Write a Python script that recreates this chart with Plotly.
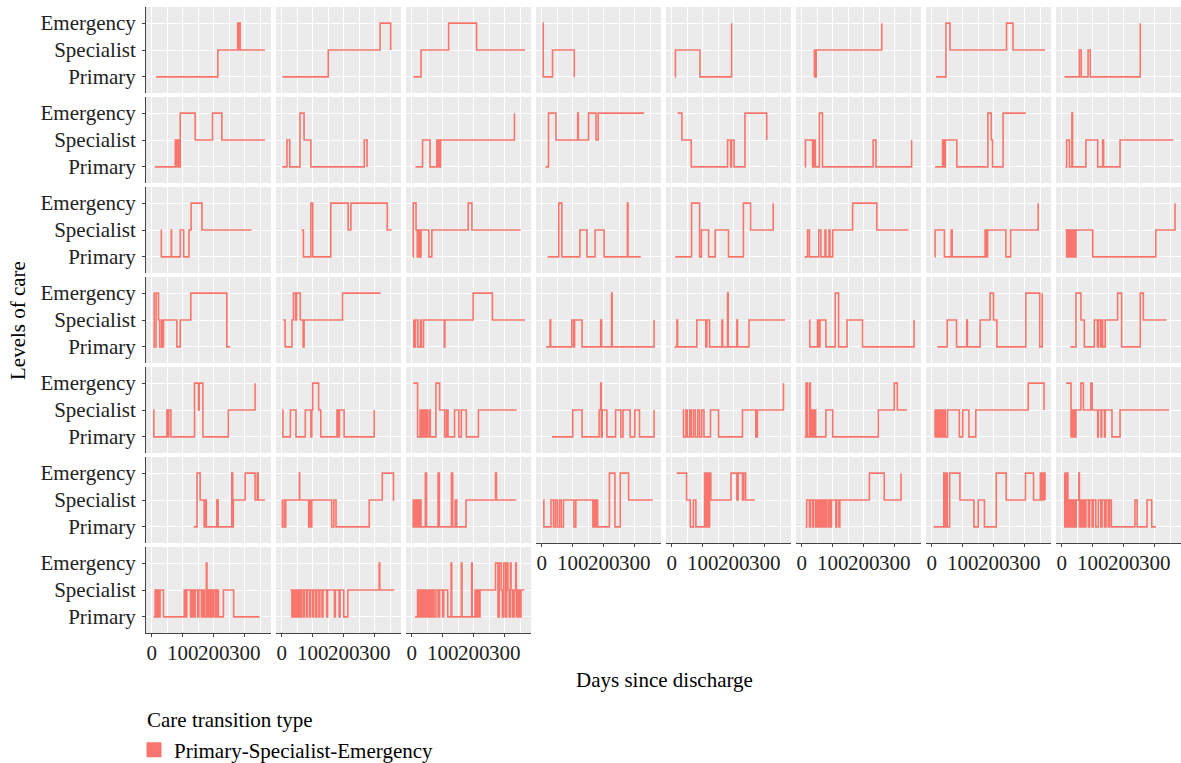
import plotly.graph_objects as go

# Care level labels (coded 1..3) and day ticks
levels = ["Primary", "Specialist", "Emergency"]
day_ticks = [0, 100, 200, 300]
legend_title = "Care transition type"
transition_type = "Primary-Specialist-Emergency"

# One care trajectory per patient: (day since discharge, care level code)
p01 = [(14, 1), (213, 2), (277, 3), (280, 2), (282, 3), (285, 2), (365, 2)]
p02 = [(2, 1), (150, 2), (317, 3), (351, 2)]
p03 = [(6, 1), (30, 2), (119, 3), (209, 2), (365, 2)]
p04 = [(4, 3), (5, 1), (35, 2), (105, 1)]
p05 = [(11, 1), (12, 2), (91, 1), (193, 3)]
p06 = [(40, 1), (41, 2), (44, 1), (47, 2), (258, 3)]
p07 = [(14, 1), (46, 3), (59, 2), (241, 3), (262, 2), (365, 2)]
p08 = [(9, 1), (57, 2), (63, 1), (85, 2), (92, 1), (253, 3)]

p09 = [(10, 1), (76, 2), (79, 1), (82, 2), (85, 1), (88, 2), (91, 1), (92, 3), (140, 2), (196, 3), (226, 2), (365, 2)]
p10 = [(2, 1), (17, 2), (26, 1), (59, 3), (72, 2), (94, 1), (266, 2), (275, 1)]
p11 = [(12, 1), (35, 2), (59, 1), (81, 2), (84, 1), (87, 2), (90, 1), (93, 2), (331, 3)]
p12 = [(12, 1), (22, 3), (46, 2), (116, 3), (118, 2), (151, 3), (175, 2), (182, 3), (330, 3)]
p13 = [(19, 3), (33, 2), (63, 1), (180, 2), (190, 1), (193, 2), (201, 1), (236, 3), (306, 2)]
p14 = [(11, 1), (12, 2), (35, 1), (39, 2), (44, 1), (57, 3), (67, 1), (230, 2), (239, 1), (354, 2)]
p15 = [(11, 1), (35, 2), (37, 1), (40, 2), (42, 1), (44, 2), (81, 1), (181, 3), (192, 2), (196, 1), (230, 3), (303, 3)]
p16 = [(12, 1), (16, 2), (25, 1), (33, 3), (35, 1), (78, 2), (116, 1), (132, 2), (135, 1), (188, 2), (360, 2)]

p17 = [(30, 2), (31, 1), (63, 2), (64, 1), (92, 2), (103, 1), (120, 2), (127, 3), (162, 2), (322, 2)]
p18 = [(64, 2), (70, 1), (94, 3), (100, 1), (158, 3), (214, 2), (223, 3), (340, 2), (354, 2)]
p19 = [(4, 1), (5, 3), (14, 2), (18, 1), (22, 2), (26, 1), (30, 2), (55, 1), (65, 2), (182, 3), (194, 2), (351, 2)]
p20 = [(19, 1), (55, 3), (65, 1), (123, 2), (146, 1), (172, 2), (201, 1), (276, 3), (278, 1), (319, 1)]
p21 = [(11, 1), (64, 3), (90, 1), (96, 2), (119, 1), (140, 2), (183, 1), (231, 3), (254, 2), (327, 3)]
p22 = [(9, 1), (19, 2), (25, 1), (55, 2), (62, 1), (75, 2), (78, 1), (88, 2), (91, 1), (100, 2), (164, 3), (242, 2), (344, 2)]
p23 = [(10, 1), (11, 2), (41, 1), (63, 2), (66, 1), (172, 2), (176, 1), (180, 2), (239, 1), (254, 2), (343, 3)]
p24 = [(12, 2), (16, 1), (20, 2), (25, 1), (29, 2), (33, 1), (38, 2), (43, 1), (46, 2), (100, 1), (303, 2), (365, 3)]

p25 = [(6, 3), (8, 1), (14, 3), (22, 2), (26, 1), (32, 2), (35, 1), (38, 2), (81, 1), (92, 2), (126, 3), (242, 1), (253, 1)]
p26 = [(5, 2), (11, 1), (33, 2), (38, 3), (45, 2), (48, 3), (60, 2), (69, 1), (72, 2), (196, 3), (319, 3)]
p27 = [(6, 2), (7, 1), (12, 2), (20, 1), (28, 2), (31, 1), (38, 2), (105, 1), (107, 2), (198, 3), (260, 2), (365, 2)]
p28 = [(14, 1), (27, 2), (29, 1), (97, 2), (103, 1), (106, 2), (130, 1), (190, 2), (193, 1), (225, 3), (227, 1), (362, 2)]
p29 = [(9, 1), (17, 2), (19, 1), (81, 2), (110, 1), (113, 2), (122, 1), (162, 2), (164, 1), (180, 3), (182, 1), (210, 2), (212, 1), (249, 2), (365, 2)]
p30 = [(25, 2), (26, 1), (51, 2), (55, 1), (59, 2), (78, 1), (108, 3), (119, 1), (146, 2), (196, 1), (362, 2)]
p31 = [(18, 1), (50, 2), (80, 1), (113, 2), (115, 1), (156, 2), (188, 3), (199, 2), (210, 1), (303, 3), (348, 1), (356, 3)]
p32 = [(28, 1), (46, 3), (62, 2), (73, 1), (105, 2), (115, 1), (118, 2), (125, 1), (127, 2), (132, 1), (140, 2), (180, 3), (193, 1), (253, 3), (263, 2), (338, 2)]

p33 = [(6, 2), (7, 1), (49, 2), (52, 1), (55, 2), (62, 1), (138, 3), (151, 2), (153, 3), (165, 1), (247, 2), (333, 3)]
p34 = [(3, 2), (4, 1), (28, 2), (46, 1), (76, 2), (94, 1), (97, 2), (100, 3), (119, 2), (126, 1), (178, 2), (182, 1), (186, 2), (201, 1), (298, 2)]
p35 = [(5, 3), (19, 1), (27, 2), (32, 1), (37, 2), (41, 1), (45, 2), (50, 1), (56, 2), (60, 1), (78, 3), (90, 2), (106, 1), (112, 2), (117, 1), (138, 2), (152, 1), (160, 2), (176, 1), (215, 2), (338, 2)]
p36 = [(33, 1), (100, 2), (130, 1), (185, 2), (190, 3), (192, 1), (195, 2), (210, 1), (238, 2), (255, 1), (262, 2), (285, 1), (300, 2), (315, 1), (362, 2)]
p37 = [(35, 2), (38, 1), (46, 2), (50, 1), (58, 2), (63, 1), (70, 2), (76, 1), (84, 2), (90, 1), (97, 2), (104, 1), (125, 2), (151, 1), (228, 2), (271, 1), (276, 2), (360, 3)]
p38 = [(9, 1), (14, 3), (18, 1), (25, 3), (28, 2), (30, 1), (33, 2), (37, 1), (40, 2), (45, 1), (78, 2), (100, 1), (247, 2), (298, 3), (308, 2), (340, 2)]
p39 = [(9, 2), (11, 1), (15, 2), (18, 1), (23, 2), (27, 1), (32, 2), (35, 1), (40, 2), (44, 1), (51, 2), (89, 1), (100, 2), (120, 1), (142, 2), (311, 3), (362, 2)]
p40 = [(14, 3), (30, 1), (33, 2), (35, 1), (37, 2), (39, 1), (42, 2), (44, 1), (46, 2), (62, 3), (70, 2), (94, 3), (98, 2), (116, 1), (118, 2), (127, 1), (129, 2), (138, 1), (140, 2), (162, 1), (188, 2), (346, 2)]

p41 = [(135, 1), (146, 3), (156, 2), (169, 1), (173, 2), (176, 1), (210, 2), (214, 1), (258, 3), (261, 1), (263, 2), (301, 3), (333, 2), (340, 3), (343, 2), (365, 2)]
p42 = [(1, 2), (2, 1), (8, 2), (10, 1), (13, 2), (57, 3), (58, 2), (87, 1), (89, 2), (91, 1), (93, 2), (95, 1), (97, 2), (161, 1), (168, 2), (175, 1), (282, 2), (324, 3), (360, 2), (363, 2)]
p43 = [(3, 2), (5, 1), (8, 2), (10, 1), (13, 2), (15, 1), (18, 2), (20, 1), (23, 2), (25, 1), (28, 2), (30, 1), (44, 3), (48, 1), (85, 3), (89, 1), (128, 3), (132, 1), (140, 2), (145, 1), (175, 2), (270, 3), (273, 2), (337, 2)]
p44 = [(6, 2), (7, 1), (30, 2), (38, 1), (44, 2), (50, 1), (57, 2), (63, 1), (70, 2), (104, 1), (110, 2), (165, 1), (168, 2), (172, 1), (176, 2), (180, 1), (218, 3), (236, 1), (253, 3), (280, 2), (358, 2)]
p45 = [(16, 3), (48, 2), (60, 1), (70, 2), (78, 1), (106, 3), (110, 1), (114, 3), (118, 1), (122, 3), (126, 2), (191, 3), (210, 2), (214, 3), (228, 2), (232, 3), (238, 2), (268, 2)]
p46 = [(12, 1), (16, 2), (25, 1), (28, 2), (35, 1), (38, 2), (45, 1), (48, 2), (52, 1), (55, 2), (60, 1), (63, 2), (68, 1), (71, 2), (76, 1), (79, 2), (85, 1), (88, 2), (93, 1), (96, 2), (110, 1), (113, 2), (120, 1), (123, 2), (218, 3), (266, 2), (320, 3)]
p47 = [(6, 1), (39, 3), (42, 1), (46, 3), (50, 1), (58, 3), (91, 2), (136, 1), (150, 2), (170, 1), (208, 3), (240, 2), (302, 3), (328, 2), (350, 3), (353, 2), (356, 3), (359, 2), (362, 3), (365, 2)]
p48 = [(9, 3), (10, 1), (13, 3), (15, 1), (18, 3), (20, 1), (23, 2), (26, 1), (29, 2), (32, 1), (35, 2), (38, 1), (41, 2), (44, 1), (47, 2), (55, 3), (57, 1), (60, 2), (64, 1), (68, 2), (73, 1), (78, 2), (86, 1), (90, 2), (98, 1), (102, 2), (110, 1), (118, 2), (126, 1), (130, 2), (138, 1), (143, 2), (150, 1), (154, 2), (160, 1), (236, 2), (243, 1), (275, 2), (290, 1), (304, 1)]

p49 = [(6, 1), (11, 2), (14, 1), (18, 2), (22, 1), (27, 2), (38, 1), (105, 2), (110, 1), (113, 2), (125, 1), (130, 2), (135, 1), (140, 2), (148, 1), (152, 2), (160, 1), (165, 2), (170, 1), (176, 3), (178, 2), (180, 1), (184, 2), (188, 1), (192, 2), (197, 1), (200, 2), (206, 1), (210, 2), (215, 1), (231, 2), (264, 1), (347, 1)]
p50 = [(28, 2), (33, 1), (36, 2), (40, 1), (43, 2), (47, 1), (50, 2), (54, 1), (57, 2), (61, 1), (64, 2), (70, 1), (73, 2), (80, 1), (83, 2), (90, 1), (93, 2), (100, 1), (103, 2), (110, 1), (113, 2), (120, 1), (123, 2), (130, 1), (133, 2), (145, 1), (148, 2), (170, 1), (173, 2), (185, 1), (188, 2), (200, 1), (213, 2), (314, 3), (316, 2), (363, 2)]
p51 = [(11, 1), (19, 2), (23, 1), (27, 2), (31, 1), (35, 2), (40, 1), (44, 2), (48, 1), (52, 2), (56, 1), (60, 2), (64, 1), (68, 2), (72, 1), (78, 2), (85, 1), (90, 2), (100, 1), (103, 2), (116, 1), (127, 3), (129, 1), (160, 3), (162, 1), (193, 3), (195, 1), (204, 2), (208, 1), (212, 2), (216, 1), (220, 2), (270, 3), (278, 1), (282, 3), (288, 2), (292, 1), (296, 3), (302, 1), (306, 3), (310, 2), (314, 1), (318, 3), (320, 2), (325, 1), (330, 2), (335, 3), (337, 1), (342, 2), (347, 1), (352, 2), (363, 2)]

patients = [p01, p02, p03, p04, p05, p06, p07, p08,
            p09, p10, p11, p12, p13, p14, p15, p16,
            p17, p18, p19, p20, p21, p22, p23, p24,
            p25, p26, p27, p28, p29, p30, p31, p32,
            p33, p34, p35, p36, p37, p38, p39, p40,
            p41, p42, p43, p44, p45, p46, p47, p48,
            p49, p50, p51]

# Facet layout (pixels)
W, H = 1181, 763
N_COLS = 8
PANEL_LEFT, PANEL_TOP = 146, 7
PANEL_W, PANEL_H = 125, 86
STEP_X, STEP_Y = 130, 90
X_RANGE = [-18.3, 384.3]
Y_RANGE = [0.4, 3.6]

LINE_COLOR = "#F8766D"
PANEL_BG = "#EBEBEB"
AXIS_COLOR = "#444444"
TEXT_COLOR = "#222222"
FONT = "Liberation Serif"
FS = 21

fig = go.Figure()
axes = {}
n = len(patients)
for i, seq in enumerate(patients):
    r, c = divmod(i, N_COLS)
    sfx = "" if i == 0 else str(i + 1)
    x0 = PANEL_LEFT + c * STEP_X
    y0 = PANEL_TOP + r * STEP_Y
    bottom = (i + N_COLS) >= n
    left = c == 0

    axes["xaxis" + sfx] = dict(
        domain=[x0 / W, min(1.0, (x0 + PANEL_W) / W)],
        anchor="y" + sfx, range=X_RANGE, fixedrange=True,
        tickmode="array", tickvals=day_ticks, tickangle=0,
        showticklabels=bottom, ticks="outside" if bottom else "",
        ticklen=3, tickwidth=1, tickcolor=AXIS_COLOR, ticklabelstandoff=-2,
        showline=bottom, linecolor=AXIS_COLOR, linewidth=1,
        showgrid=True, gridcolor="white", gridwidth=1.1, zeroline=False,
        minor=dict(tickvals=[t + 50 for t in day_ticks], showgrid=True,
                   gridcolor="white", gridwidth=0.55, ticks=""),
        tickfont=dict(family=FONT, size=FS, color=TEXT_COLOR),
    )
    axes["yaxis" + sfx] = dict(
        domain=[1 - (y0 + PANEL_H) / H, 1 - y0 / H],
        anchor="x" + sfx, range=Y_RANGE, fixedrange=True,
        tickmode="array", tickvals=[1, 2, 3], ticktext=levels,
        showticklabels=left, ticks="outside" if left else "",
        ticklen=3, tickwidth=1, tickcolor=AXIS_COLOR, ticklabelstandoff=2,
        showline=left, linecolor=AXIS_COLOR, linewidth=1,
        showgrid=True, gridcolor="white", gridwidth=1.1, zeroline=False,
        tickfont=dict(family=FONT, size=FS, color=TEXT_COLOR),
    )

    fig.add_trace(go.Scatter(
        x=[d for d, _ in seq], y=[lv for _, lv in seq],
        mode="lines", line=dict(color=LINE_COLOR, width=1.6, shape="hv"),
        xaxis="x" + sfx, yaxis="y" + sfx,
        showlegend=False, hoverinfo="skip",
    ))

# Legend key for the transition type
fig.add_trace(go.Scatter(
    x=[None], y=[None], mode="markers",
    marker=dict(symbol="square", size=15, color=LINE_COLOR),
    name=transition_type, showlegend=True,
))

fig.update_layout(
    width=W, height=H, autosize=False,
    margin=dict(l=0, r=0, t=0, b=0, autoexpand=False),
    paper_bgcolor="white", plot_bgcolor=PANEL_BG,
    font=dict(family=FONT, size=FS, color="black"),
    legend=dict(
        x=134 / W, xanchor="left", y=1 - 750 / H, yanchor="middle",
        font=dict(family=FONT, size=FS, color="black"),
        bgcolor="rgba(0,0,0,0)", itemsizing="trace",
    ),
    annotations=[
        dict(text="Levels of care", x=18 / W, y=1 - 321 / H, xref="paper", yref="paper",
             xanchor="center", yanchor="middle",
             showarrow=False, textangle=-90, font=dict(family=FONT, size=FS, color="black")),
        dict(text="Days since discharge", x=664 / W, y=1 - 680 / H, xref="paper", yref="paper",
             xanchor="center", yanchor="middle",
             showarrow=False, font=dict(family=FONT, size=FS, color="black")),
        dict(text=legend_title, x=145 / W, y=1 - 720 / H, xref="paper", yref="paper",
             xanchor="left", yanchor="middle",
             showarrow=False, font=dict(family=FONT, size=FS, color="black")),
    ],
    **axes,
)

fig.write_html("out.html")
